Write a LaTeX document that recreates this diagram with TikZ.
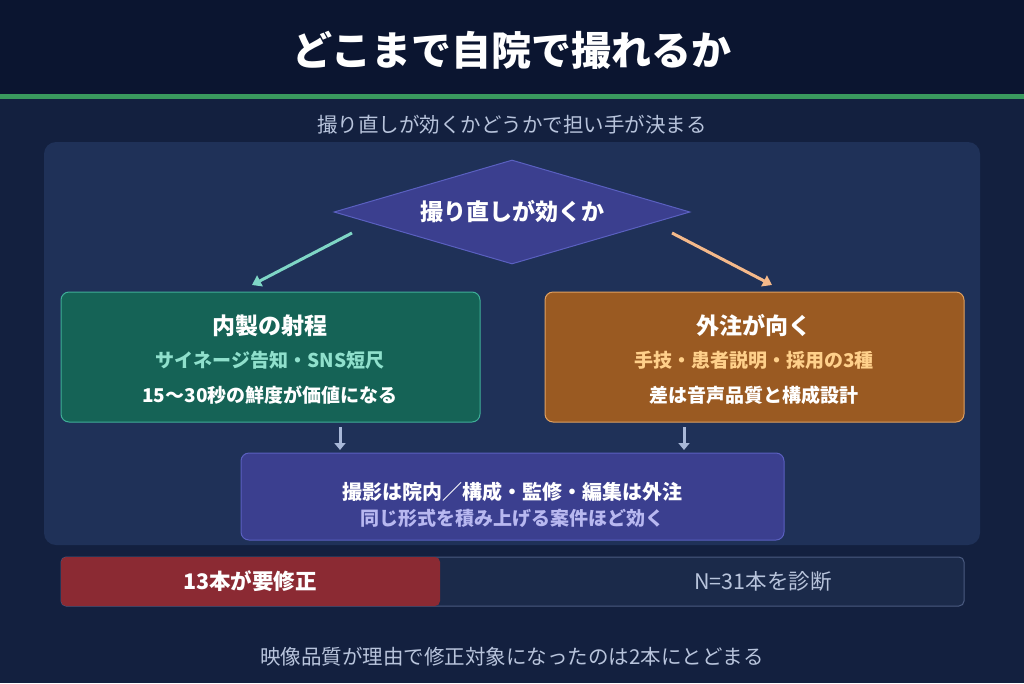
\documentclass[tikz,border=0pt]{standalone}
\usepackage{fontspec}
\setmainfont{Noto Sans CJK JP}
\usetikzlibrary{arrows.meta,shapes.geometric}
\definecolor{bgdark}{HTML}{0B1530}
\definecolor{bgmain}{HTML}{13203F}
\definecolor{panel}{HTML}{1F3158}
\definecolor{lineg}{HTML}{3A9A5E}
\definecolor{subtxt}{HTML}{B8C4DC}
\definecolor{dia}{HTML}{3B3F8F}
\definecolor{diaedge}{HTML}{5A60C0}
\definecolor{tealf}{HTML}{156356}
\definecolor{teale}{HTML}{3FAE98}
\definecolor{tealt}{HTML}{8FE0CC}
\definecolor{orf}{HTML}{9A5A22}
\definecolor{ore}{HTML}{E0A060}
\definecolor{ort}{HTML}{FFD08A}
\definecolor{arrowt}{HTML}{7FD6C6}
\definecolor{arrowo}{HTML}{F5B98A}
\definecolor{grey}{HTML}{A8B8D8}
\definecolor{barf}{HTML}{1B2A4A}
\definecolor{bare}{HTML}{4A5A80}
\definecolor{redf}{HTML}{8B2A33}
\definecolor{lav}{HTML}{B8B8F0}
\tikzset{
  box/.style={rounded corners=8pt, line width=1pt},
  head/.style={text=white, font=\bfseries\fontsize{23}{27}\selectfont},
  wtxt/.style={text=white, font=\bfseries\fontsize{20}{24}\selectfont},
  stxt/.style={font=\bfseries\fontsize{19}{23}\selectfont},
  ptxt/.style={text=subtxt, font=\fontsize{20.5}{24}\selectfont},
  link/.style={line width=3pt, -{Triangle[length=9pt,width=12pt]}},
  down/.style={grey, line width=3pt, -{Triangle[length=7pt,width=11pt]}}
}
\begin{document}
\begin{tikzpicture}[x=1pt,y=-1pt]
  \fill[bgmain] (0,0) rectangle (1024,683);
  \fill[bgdark] (0,0) rectangle (1024,94);
  \fill[lineg] (0,94) rectangle (1024,99);
  \node[text=white, font=\bfseries\fontsize{40}{46}\selectfont] (title) at (512,50) {どこまで自院で撮れるか};
  \node[ptxt] (sub) at (512,125) {撮り直しが効くかどうかで担い手が決まる};
  \fill[panel, rounded corners=12pt] (44,142) rectangle (980,545);
  % decision
  \node[diamond, aspect=3.4, fill=dia, draw=diaedge, line width=1pt, minimum width=356pt, minimum height=104pt, inner sep=0pt] (q) at (512,212) {};
  \node[head] at (q) {撮り直しが効くか};
  % branches
  \draw[box, fill=tealf, draw=teale] (61,292) rectangle (480,422);
  \node[head] (lhead) at (270,326) {内製の射程};
  \node[stxt, text=tealt] (lsub) at (270,360) {サイネージ告知・SNS短尺};
  \node[stxt, text=white] (lnote) at (270,395) {15〜30秒の鮮度が価値になる};
  \draw[box, fill=orf, draw=ore] (545,292) rectangle (964,422);
  \node[head] (rhead) at (754,326) {外注が向く};
  \node[stxt, text=ort] (rsub) at (754,360) {手技・患者説明・採用の3種};
  \node[stxt, text=white] (rnote) at (754,395) {差は音声品質と構成設計};
  \coordinate (qa) at (352,233);
  \coordinate (qb) at (672,233);
  \coordinate (la) at (252,285);
  \coordinate (ra) at (772,285);
  \draw[link, arrowt] (qa) -- (la);
  \draw[link, arrowo] (qb) -- (ra);
  % merge
  \draw[box, fill=dia, draw=diaedge] (241,453) rectangle (784,540);
  \node[wtxt] (mtop) at (512,492) {撮影は院内／構成・監修・編集は外注};
  \node[stxt, text=lav] (mbot) at (512,518) {同じ形式を積み上げる案件ほど効く};
  \coordinate (d1a) at (340,427);
  \coordinate (d1b) at (340,450);
  \coordinate (d2a) at (684,427);
  \coordinate (d2b) at (684,450);
  \draw[down] (d1a) -- (d1b);
  \draw[down] (d2a) -- (d2b);
  % bar
  \draw[fill=barf, draw=bare, rounded corners=5pt, line width=1pt] (61,557) rectangle (964,606);
  \fill[redf, rounded corners=5pt] (61,557) rectangle (440,606);
  \node[text=white, font=\bfseries\fontsize{21.5}{25}\selectfont] (red) at (250,581) {13本が要修正};
  \node[text=subtxt, font=\fontsize{21.5}{25}\selectfont] (all) at (763,581) {N=31本を診断};
  \node[ptxt] (foot) at (512,657) {映像品質が理由で修正対象になったのは2本にとどまる};
\end{tikzpicture}
\end{document}
